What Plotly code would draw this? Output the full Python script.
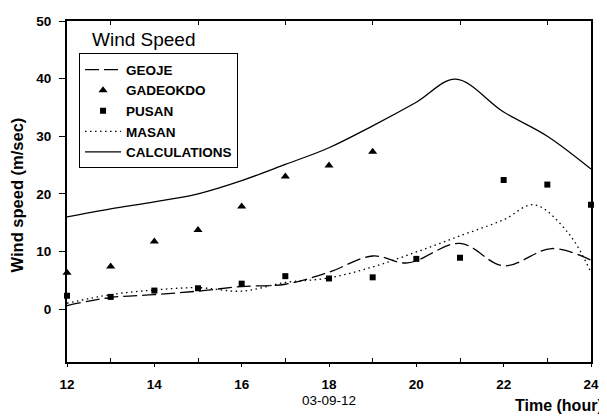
import plotly.graph_objects as go

# ---- data ----
calc_x = [12, 13, 14, 15, 16, 17, 18, 19, 20, 20.9, 22, 23, 24]
calc_y = [16.0, 17.4, 18.6, 20.0, 22.3, 25.1, 28.0, 31.8, 35.9, 39.9, 34.2, 30.0, 24.3]

geoje_x = [12, 13, 14, 15, 16, 17, 18, 19, 19.8, 21, 22, 23.1, 24]
geoje_y = [0.6, 2.0, 2.5, 3.1, 3.9, 4.3, 6.4, 9.2, 8.0, 11.4, 7.5, 10.5, 8.5]

masan_x = [12, 13, 14, 15, 16, 17, 18, 19, 20, 21, 22, 22.7, 23.5, 24]
masan_y = [1.0, 2.5, 3.3, 3.7, 3.1, 4.6, 5.4, 7.3, 9.9, 12.7, 15.5, 18.1, 13.0, 6.3]

gad_x = [12, 13, 14, 15, 16, 17, 18, 19]
gad_y = [6.3, 7.4, 11.7, 13.7, 17.8, 23.0, 24.9, 27.3]

pusan_x = [12, 13, 14, 15, 16, 17, 18, 19, 20, 21, 22, 23, 24]
pusan_y = [2.3, 2.1, 3.2, 3.6, 4.4, 5.7, 5.3, 5.5, 8.7, 8.9, 22.4, 21.6, 18.1]

x_ticks = [12, 14, 16, 18, 20, 22, 24]
x_minor = [13, 15, 17, 19, 21, 23]
y_ticks = [0, 10, 20, 30, 40, 50]

FONT = "Liberation Sans, Arial, sans-serif"

fig = go.Figure()
fig.add_trace(go.Scatter(x=geoje_x, y=geoje_y, mode="lines", name="GEOJE",
                         line=dict(color="black", width=1.3, dash="14px,5px", shape="spline")))
fig.add_trace(go.Scatter(x=gad_x, y=gad_y, mode="markers", name="GADEOKDO",
                         marker=dict(symbol="triangle-up", size=8, color="black"), cliponaxis=False))
fig.add_trace(go.Scatter(x=pusan_x, y=pusan_y, mode="markers", name="PUSAN",
                         marker=dict(symbol="square", size=6, color="black"), cliponaxis=False))
fig.add_trace(go.Scatter(x=masan_x, y=masan_y, mode="lines", name="MASAN",
                         line=dict(color="black", width=1.3, dash="1.5px,3.5px", shape="spline")))
fig.add_trace(go.Scatter(x=calc_x, y=calc_y, mode="lines", name="CALCULATIONS",
                         line=dict(color="black", width=1.3, shape="spline")))
# invisible trace to carry the top axis (inside ticks at odd hours)
fig.add_trace(go.Scatter(x=[12, 24], y=[0, 0], xaxis="x2", mode="lines",
                         line=dict(width=0), showlegend=False, hoverinfo="skip"))

# page body has an 8px margin, so the figure is 8px smaller than the window
fig.update_layout(
    width=599, height=409,
    margin=dict(l=59, r=16, t=6, b=55),
    paper_bgcolor="white", plot_bgcolor="white",
    font=dict(family=FONT, color="black"),
    showlegend=True,
    legend=dict(x=0.023, y=0.905, xanchor="left", yanchor="top",
                bordercolor="black", borderwidth=1, bgcolor="white",
                font=dict(size=13.5, family=FONT, color="black", weight="bold"),
                itemwidth=36, tracegroupgap=0, entrywidth=148),
    xaxis=dict(range=[12, 24], tickvals=x_ticks, ticks="outside", ticklen=3,
               tickwidth=1, tickcolor="black", showline=True, linecolor="black",
               linewidth=2, mirror=True, showgrid=False, zeroline=False,
               ticklabelstandoff=6,
               tickfont=dict(size=13.5, family=FONT, weight="bold"),
               minor=dict(tickvals=x_minor, ticks="inside",
                          ticklen=4, tickcolor="black", showgrid=False)),
    xaxis2=dict(range=[12, 24], overlaying="x", side="top",
                tickvals=x_minor, ticks="inside", ticklen=4,
                tickcolor="black", showticklabels=False, showgrid=False,
                zeroline=False, showline=False),
    yaxis=dict(range=[-9.2, 50], tickvals=y_ticks, ticks="outside", ticklen=6,
               tickwidth=1, tickcolor="black", showline=True, linecolor="black",
               linewidth=2, mirror=True, showgrid=False, zeroline=False,
               ticklabelstandoff=5,
               tickfont=dict(size=13.5, family=FONT, weight="bold")),
)

fig.add_annotation(text="Wind Speed", xref="paper", yref="paper", x=0.044, y=0.945,
                   xanchor="left", yanchor="middle", showarrow=False,
                   font=dict(size=19, family=FONT, color="black"))
fig.add_annotation(text="Wind speed (m/sec)", xref="paper", yref="paper",
                   x=-0.0954, y=0.4885, xanchor="center", yanchor="middle",
                   textangle=-90, showarrow=False,
                   font=dict(size=16.5, family=FONT, weight="bold", color="black"))
fig.add_annotation(text="Time (hour)", xref="paper", yref="paper",
                   x=1.0267, y=-0.129, xanchor="right", yanchor="middle", showarrow=False,
                   font=dict(size=16, family=FONT, weight="bold", color="black"))
fig.add_annotation(text="03-09-12", xref="x", yref="paper",
                   x=18, y=-0.112, xanchor="center", yanchor="middle", showarrow=False,
                   font=dict(size=13.5, family=FONT, color="black"))

fig.write_html("out.html")
